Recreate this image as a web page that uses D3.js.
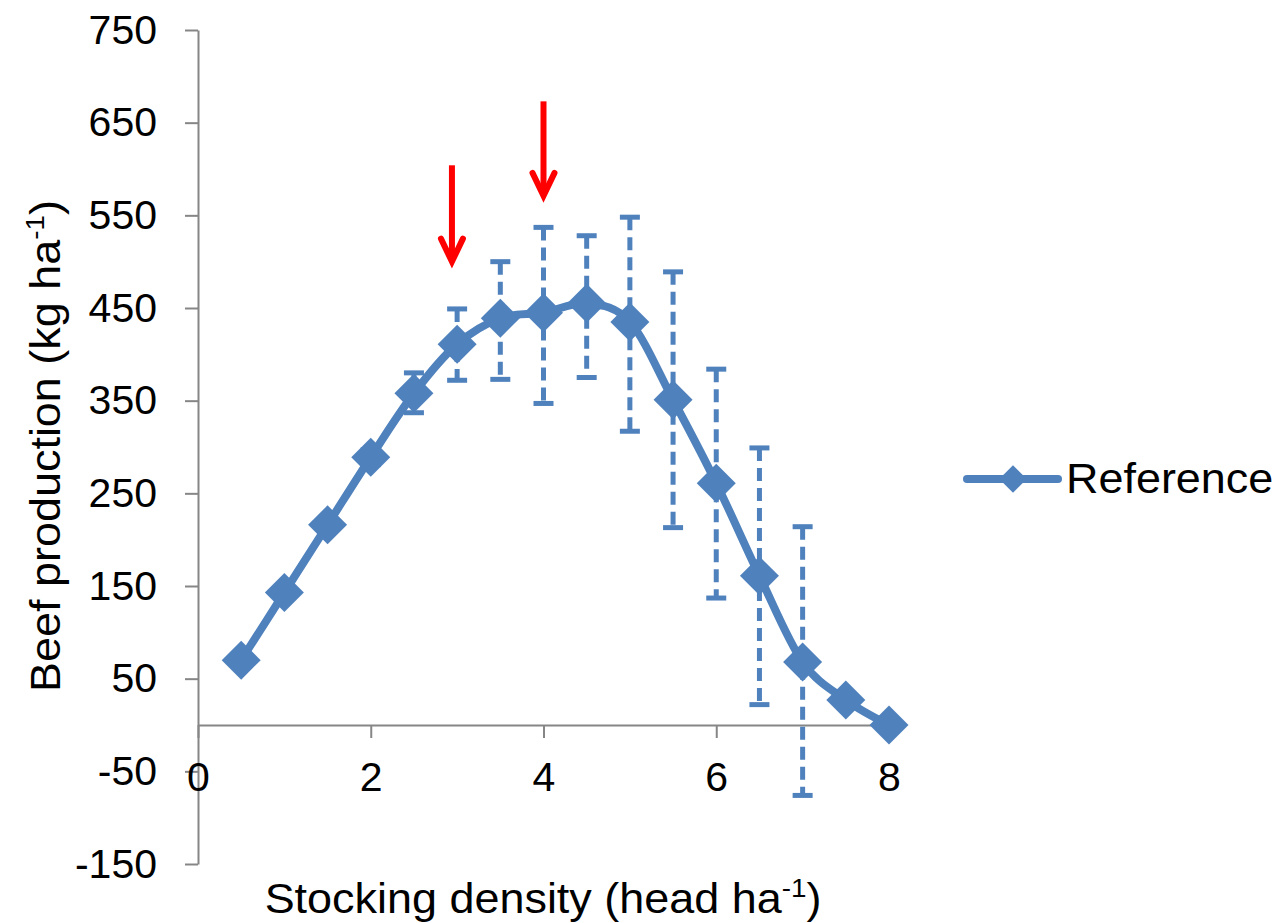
<!DOCTYPE html>
<html>
<head>
<meta charset="utf-8">
<script src="https://cdn.jsdelivr.net/npm/d3@7"></script>
<style>
  body { margin: 0; background: #fff; }
  svg { display: block; font-family: "Liberation Sans", Arial, sans-serif; }
</style>
</head>
<body>
<svg id="chart" width="1276" height="923"></svg>
<script>
// stocking density (head/ha) and beef production (kg/ha)
const density  = [0.5, 1, 1.5, 2, 2.5, 3, 3.5, 4, 4.5, 5, 5.5, 6, 6.5, 7, 7.5, 8];
const beef     = [70, 143, 216, 289, 358, 411, 439, 445, 455, 435, 351, 261, 161, 68, 27, 0];
const errHigh  = [70, 143, 220, 297, 380, 449, 500, 537, 528, 548, 489, 384, 299, 214, 27, 0];
const errLow   = [70, 143, 212, 281, 337, 372, 373, 347, 375, 317, 213, 137, 22, -76, 27, 0];

const xTicks = [0, 2, 4, 6, 8];
const yTicks = [-150, -50, 50, 150, 250, 350, 450, 550, 650, 750];

// the two red arrows (x in head/ha, y from..to in kg/ha)
const arrows = [
  { x: 2.94, from: 604, to: 500 },
  { x: 4.0,  from: 673, to: 571 }
];

const seriesName = 'Reference';
const blue = '#4f81bd';
const axisGrey = '#868686';
const fontSize = 41;
const stretch = 1.07; // source text is a bit wider than liberation sans

const svg = d3.select('#chart');

const x = d3.scaleLinear().domain([0, 8]).range([198, 889]);
const y = d3.scaleLinear().domain([-150, 750]).range([864, 30]);

const data = density.map((d, i) => ({ x: d, y: beef[i], hi: errHigh[i], lo: errLow[i] }));

// plain hyphen for negatives, like the original
const fmt = d => String(d);

// y axis
const gy = svg.append('g')
  .attr('transform', `translate(${x(0)},0)`)
  .call(d3.axisLeft(y).tickValues(yTicks).tickFormat(fmt).tickSize(13).tickSizeOuter(0).tickPadding(28));
// x axis sits on y = 0
const gx = svg.append('g')
  .attr('transform', `translate(0,${y(0)})`)
  .call(d3.axisBottom(x).tickValues(xTicks).tickFormat(fmt).tickSize(13).tickSizeOuter(0).tickPadding(24));

[gx, gy].forEach(g => {
  g.select('.domain').attr('stroke', axisGrey).attr('stroke-width', 2);
  g.selectAll('.tick line').attr('stroke', axisGrey).attr('stroke-width', 2);
  g.selectAll('.tick text')
    .attr('fill', '#000')
    .attr('font-size', fontSize)
    .attr('font-family', '"Liberation Sans", Arial, sans-serif');
});
gx.selectAll('.tick text').attr('dy', '0.71em');

// error bars (dashed, solid caps)
const withErr = data.filter(d => d.hi !== d.y || d.lo !== d.y);
svg.append('g').selectAll('line')
  .data(withErr)
  .join('line')
    .attr('x1', d => x(d.x)).attr('x2', d => x(d.x))
    .attr('y1', d => y(d.hi)).attr('y2', d => y(d.lo))
    .attr('stroke', blue)
    .attr('stroke-width', 5)
    .attr('stroke-dasharray', '13,7');

const caps = withErr.flatMap(d => [{ x: d.x, v: d.hi }, { x: d.x, v: d.lo }]);
svg.append('g').selectAll('line')
  .data(caps)
  .join('line')
    .attr('x1', d => x(d.x) - 10).attr('x2', d => x(d.x) + 10)
    .attr('y1', d => y(d.v)).attr('y2', d => y(d.v))
    .attr('stroke', blue)
    .attr('stroke-width', 5);

// smoothed line like excel
const line = d3.line()
  .x(d => x(d.x))
  .y(d => y(d.y))
  .curve(d3.curveCardinal);

svg.append('path')
  .datum(data)
  .attr('fill', 'none')
  .attr('stroke', blue)
  .attr('stroke-width', 8)
  .attr('stroke-linejoin', 'round')
  .attr('d', line);

// diamond markers = square turned 45deg
const diamond = d3.symbol().type(d3.symbolSquare).size(760);
svg.append('g').selectAll('path')
  .data(data)
  .join('path')
    .attr('d', diamond)
    .attr('transform', d => `translate(${x(d.x)},${y(d.y)}) rotate(45)`)
    .attr('fill', blue);

// red arrows
const red = '#ff0000';
const ga = svg.append('g');
arrows.forEach(a => {
  const ax = x(a.x);
  ga.append('line')
    .attr('x1', ax).attr('x2', ax)
    .attr('y1', y(a.from)).attr('y2', y(a.to) - 3)
    .attr('stroke', red).attr('stroke-width', 6);
  ga.append('path')
    .attr('d', `M${ax - 11},${y(a.to) - 23} L${ax},${y(a.to)} L${ax + 11},${y(a.to) - 23}`)
    .attr('fill', 'none')
    .attr('stroke', red)
    .attr('stroke-width', 6)
    .attr('stroke-linecap', 'round');
});

// legend
const leg = svg.append('g').attr('transform', 'translate(967,479)');
leg.append('line')
  .attr('x1', 0).attr('x2', 91)
  .attr('y1', 0).attr('y2', 0)
  .attr('stroke', blue).attr('stroke-width', 8).attr('stroke-linecap', 'round');
leg.append('path')
  .attr('d', d3.symbol().type(d3.symbolSquare).size(380))
  .attr('transform', 'translate(46,0) rotate(45)')
  .attr('fill', blue);
leg.append('text')
  .attr('transform', `translate(99,14) scale(${stretch},1)`)
  .attr('font-size', 42)
  .text(seriesName);

// axis titles
const xt = svg.append('text')
  .attr('transform', `translate(543,913) scale(${stretch},1)`)
  .attr('text-anchor', 'middle')
  .attr('font-size', 42);
xt.append('tspan').text('Stocking density (head ha');
xt.append('tspan').attr('font-size', 26).attr('dy', -16).text('-1');
xt.append('tspan').attr('dy', 16).text(')');

const yt = svg.append('text')
  .attr('transform', `translate(60,446) rotate(-90) scale(${stretch},1)`)
  .attr('text-anchor', 'middle')
  .attr('font-size', 42);
yt.append('tspan').text('Beef production (kg ha');
yt.append('tspan').attr('font-size', 26).attr('dy', -16).text('-1');
yt.append('tspan').attr('dy', 16).text(')');
</script>
</body>
</html>
